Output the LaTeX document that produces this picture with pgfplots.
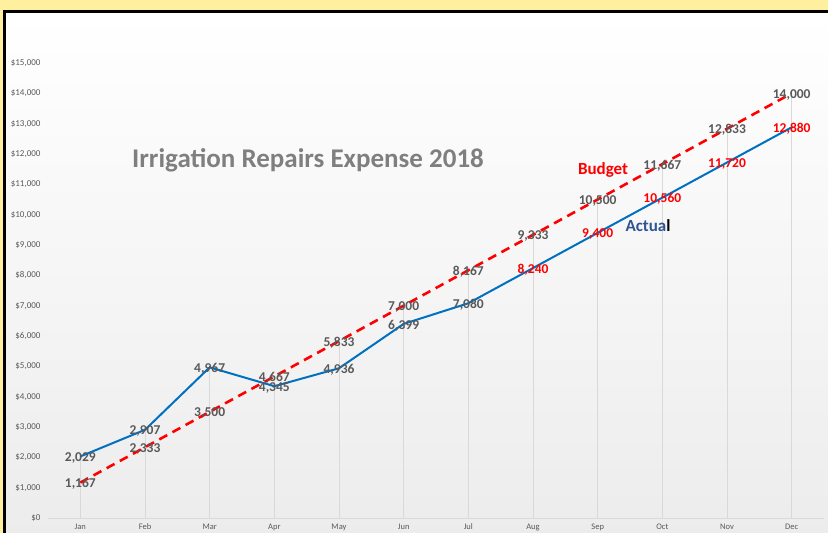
\documentclass[border=0pt]{standalone}
\usepackage{pgfplots}
\pgfplotsset{compat=1.18}
\usepackage{fontspec}
\setmainfont{Carlito}
\definecolor{bgyel}{RGB}{255,240,160}
\definecolor{lblgray}{RGB}{89,89,89}
\definecolor{ttlgray}{RGB}{127,127,127}
\definecolor{lineblue}{RGB}{0,112,192}
\definecolor{txtblue}{RGB}{47,85,151}
\definecolor{dropgray}{RGB}{217,217,217}
\begin{document}
\begin{tikzpicture}
\useasboundingbox (0,0) rectangle (828bp,533bp);
\fill[bgyel] (0,0) rectangle (828bp,533bp);
\shade[top color=white, middle color=white, bottom color={rgb,255:red,236;green,236;blue,236}] (5bp,-5bp) rectangle (840bp,521bp);
\draw[black, line width=3bp] (4.5bp,-10bp) rectangle (840bp,521.5bp);
\begin{axis}[
  at={(48bp,15bp)}, anchor=south west,
  scale only axis, width=776bp, height=455bp,
  xmin=-0.5, xmax=11.5, ymin=0, ymax=15000,
  clip=false,
  axis x line*=bottom, axis y line*=left,
  x axis line style={draw=dropgray, line width=1bp, -},
  y axis line style={draw=none},
  major tick length=0pt,
  xtick={0,...,11},
  xticklabels={Jan,Feb,Mar,Apr,May,Jun,Jul,Aug,Sep,Oct,Nov,Dec},
  ytick={0,1000,...,15000},
  /pgf/number format/assume math mode=true,
  /pgf/number format/1000 sep={,},
  yticklabel={\$\pgfmathprintnumber{\tick}},
  yticklabel style={font=\fontsize{9bp}{10bp}\selectfont, text=lblgray, xshift=-4bp},
  xticklabel style={font=\fontsize{8.5bp}{9bp}\selectfont, text=lblgray, yshift=-2.5bp},
  scaled y ticks=false,
]
% drop lines
\addplot[ycomb, draw=dropgray, line width=1bp, mark=none] coordinates {(0,2029)(1,2907)(2,4967)(3,4667)(4,5833)(5,7000)(6,8167)(7,9333)(8,10500)(9,11667)(10,12833)(11,14000)};
% budget
\addplot[red, line width=2.6bp, dash pattern=on 9bp off 6bp, mark=none] coordinates {(0,1167)(1,2333)(2,3500)(3,4667)(4,5833)(5,7000)(6,8167)(7,9333)(8,10500)(9,11667)(10,12833)(11,14000)};
% actual
\addplot[lineblue, line width=2bp, mark=none] coordinates {(0,2029)(1,2907)(2,4967)(3,4345)(4,4936)(5,6399)(6,7080)(7,8240)(8,9400)(9,10560)(10,11720)(11,12880)};
% labels
\addplot[draw=none, mark=none, nodes near coords, point meta=y,
  nodes near coords style={anchor=center, yshift=-1.5bp, text=lblgray, font=\fontsize{13.5bp}{15bp}\selectfont\bfseries}]
  coordinates {(0,1167)(1,2333)(2,3500)(3,4667)(4,5833)(5,7000)(6,8167)(7,9333)(8,10500)(9,11667)(10,12833)(11,14000)};
\addplot[draw=none, mark=none, nodes near coords, point meta=y,
  nodes near coords style={anchor=center, yshift=-1.5bp, text=lblgray, font=\fontsize{13.5bp}{15bp}\selectfont\bfseries}]
  coordinates {(0,2029)(1,2907)(2,4967)(3,4345)(4,4936)(5,6399)(6,7080)};
\addplot[draw=none, mark=none, nodes near coords, point meta=y,
  nodes near coords style={anchor=center, yshift=-1.5bp, text=red, font=\fontsize{13.5bp}{15bp}\selectfont\bfseries}]
  coordinates {(7,8240)(8,9400)(9,10560)(10,11720)(11,12880)};
\end{axis}
\node[anchor=west, inner sep=0, text=ttlgray, font=\fontsize{27bp}{30bp}\selectfont\bfseries] at (132bp,373bp) {Irrigation Repairs Expense 2018};
\node[anchor=center, inner sep=0, text=red, font=\fontsize{17bp}{20bp}\selectfont\bfseries] at (603bp,363bp) {Budget};
\node[anchor=center, inner sep=0, font=\fontsize{17bp}{20bp}\selectfont\bfseries] at (648bp,307bp) {\textcolor{txtblue}{Actua}\textcolor{black}{l}};
\end{tikzpicture}
\end{document}
